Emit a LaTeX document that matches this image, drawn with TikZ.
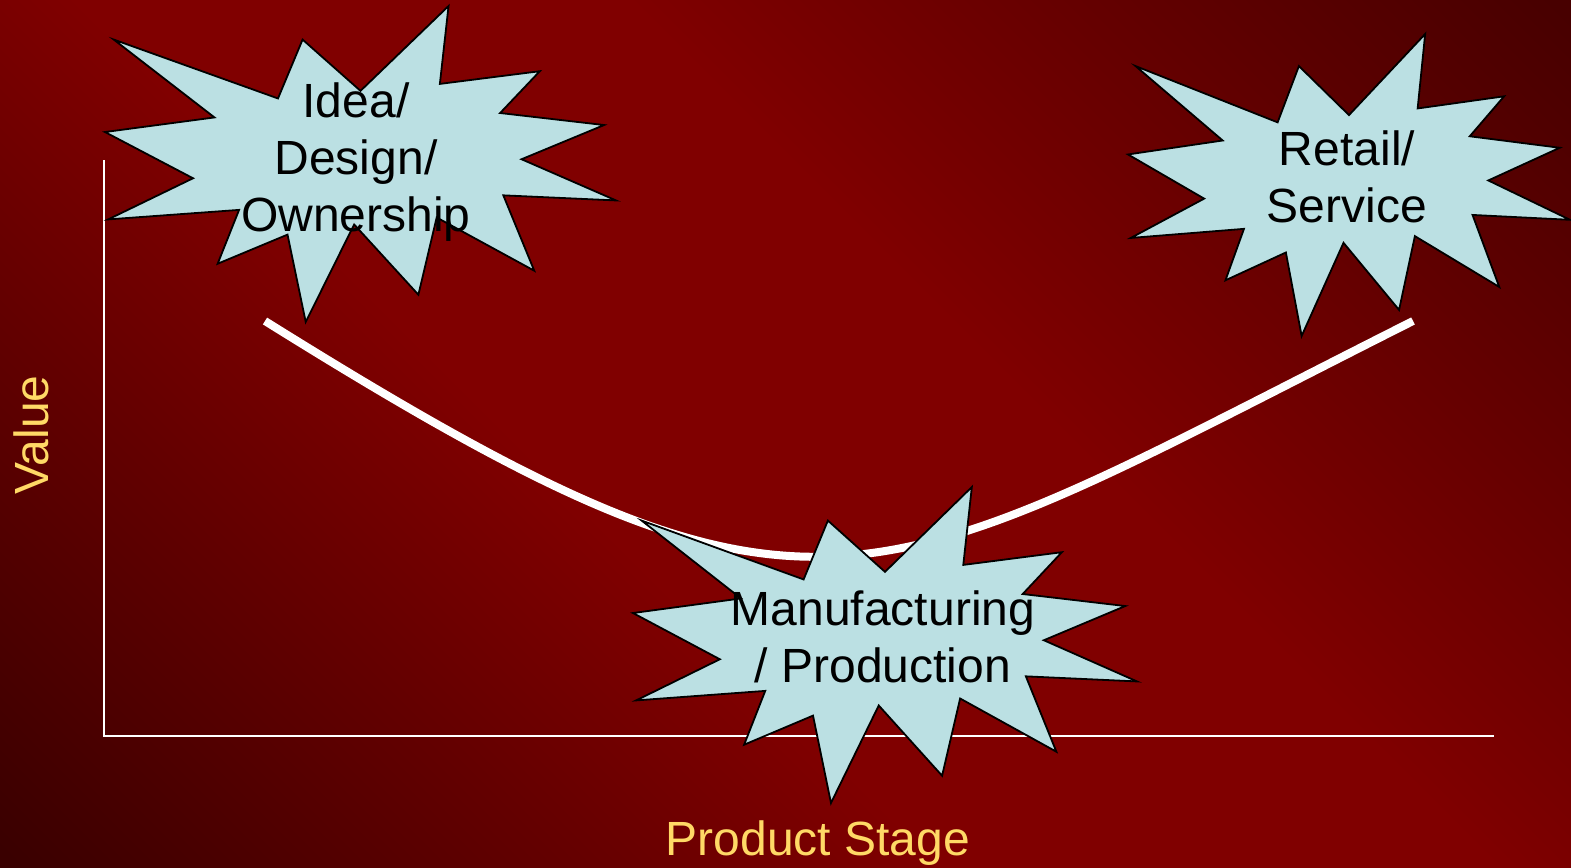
\documentclass[tikz,border=0pt]{standalone}
\usepackage{fontspec}
\setmainfont{Liberation Sans}

\definecolor{bgred}{RGB}{128,0,0}
\definecolor{bgdarkbl}{RGB}{58,0,0}
\definecolor{bgdarktr}{RGB}{72,0,0}
\definecolor{starblue}{RGB}{187,224,227}
\definecolor{labelgold}{RGB}{255,217,102}

\pgfdeclarehorizontalshading{slidebg}{100bp}{color(0bp)=(bgdarkbl); color(15bp)=(bgdarkbl); color(42bp)=(bgred); color(58bp)=(bgred); color(85bp)=(bgdarktr); color(100bp)=(bgdarktr)}

\begin{document}
\begin{tikzpicture}[
    x=0.5pt, y=-0.5pt,
    font=\fontsize{24}{28.5}\selectfont,
    axis/.style = {draw=white, line width=1pt},
    valuecurve/.style = {draw=white, line width=4pt},
    sealfill/.style = {draw=black, fill=starblue, line width=0.9pt, line join=miter},
    stagetext/.style = {align=center, text=black, inner sep=0pt},
    axislabel/.style = {text=labelgold, inner sep=0pt, anchor=base},
    seal/.pic = {
        \path[sealfill] (108,58)
            \foreach \px/\py in {145.22/0, 141.55/53.25, 183.80/44.57, 167.02/73.15,
                210.97/81.37, 176.07/104.75, 216/132.90, 168.37/129.42, 181.45/180.95,
                140.20/144.57, 132.47/197.37, 105.32/149.35, 84.85/216, 77.15/156.27,
                47.62/176.17, 56.67/139.37, 1.35/145.87, 37.22/117.75, 0/86.15,
                46.27/76.17, 3.70/22.95, 73.12/63.20, 83.52/22.95} { -- (\px,\py) }
            -- cycle;
    }
]

% =========================================================
% SLIDE BACKGROUND
% =========================================================
\useasboundingbox (0,0) rectangle (1571,868);
\fill[shading=slidebg, shading angle=45] (0,0) rectangle (1571,868);

% =========================================================
% AXES
% =========================================================
\coordinate (origin) at (104,736);
\coordinate (ytop) at (104,160);
\coordinate (xend) at (1494,736);
\draw[axis] (ytop) -- (origin) -- (xend);

% Smile curve
\coordinate (cstart) at (265,321);
\coordinate (cend) at (1413,321);
\draw[valuecurve] (cstart) .. controls (821,668) and (857,601) .. (cend);

% =========================================================
% STAGES (starbursts)
% =========================================================
\pic[shift={(105,6)}, xscale=511/216, yscale=316/216] {seal};
\pic[shift={(1128,34)}, xscale=442/216, yscale=302/216] {seal};
\pic[shift={(633,487)}, xscale=504/216, yscale=316/216] {seal};

\node[stagetext] (idea) at (356,162) {Idea/\\Design/\\Ownership};
\node[stagetext] (retail) at (1347,177) {Retail/\\Service};
\node[stagetext] (manuf) at (883,637) {Manufacturing\\/ Production};

% =========================================================
% AXIS LABELS
% =========================================================
\node[axislabel, rotate=90] (value) at (48,435) {Value};
\node[axislabel] (stage) at (818,855) {Product Stage};

\end{tikzpicture}
\end{document}
